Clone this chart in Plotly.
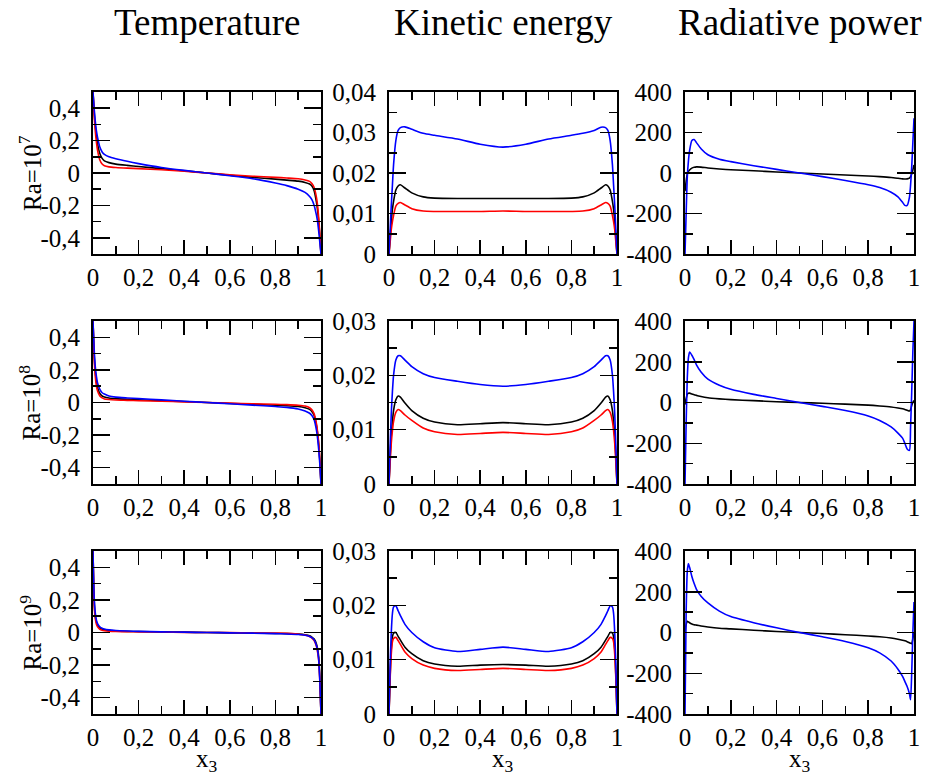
import plotly.graph_objects as go

# ---------------- data ----------------
x3 = [0, 0.005, 0.01, 0.015, 0.02, 0.03, 0.04, 0.05, 0.07, 0.1, 0.15, 0.2, 0.3, 0.4, 0.5,
      0.6, 0.7, 0.8, 0.85, 0.9, 0.93, 0.95, 0.96, 0.97, 0.98, 0.985, 0.99, 0.995, 1]

# Temperature
temp7_black = [0.5, 0.38, 0.29, 0.23, 0.18, 0.12, 0.09, 0.075, 0.064, 0.055, 0.047, 0.04, 0.027, 0.014, 0.0,
               -0.014, -0.027, -0.038, -0.044, -0.05, -0.058, -0.068, -0.08, -0.11, -0.18, -0.23, -0.3, -0.39, -0.5]
temp7_red = [0.5, 0.36, 0.26, 0.19, 0.14, 0.08, 0.055, 0.045, 0.038, 0.034, 0.03, 0.027, 0.02, 0.011, 0.0,
             -0.011, -0.02, -0.027, -0.031, -0.036, -0.043, -0.052, -0.065, -0.09, -0.15, -0.2, -0.28, -0.38, -0.5]
temp7_blue = [0.5, 0.4, 0.32, 0.26, 0.22, 0.16, 0.13, 0.115, 0.1, 0.088, 0.072, 0.058, 0.034, 0.016, 0.0,
              -0.017, -0.035, -0.062, -0.078, -0.1, -0.12, -0.145, -0.165, -0.2, -0.26, -0.3, -0.36, -0.43, -0.5]

temp8_black = [0.5, 0.3, 0.19, 0.13, 0.09, 0.055, 0.04, 0.034, 0.028, 0.024, 0.02, 0.017, 0.011, 0.006, 0.0,
               -0.006, -0.011, -0.017, -0.02, -0.025, -0.032, -0.042, -0.055, -0.08, -0.14, -0.19, -0.26, -0.36, -0.5]
temp8_red = [0.5, 0.28, 0.16, 0.1, 0.07, 0.04, 0.028, 0.022, 0.018, 0.015, 0.013, 0.011, 0.008, 0.004, 0.0,
             -0.004, -0.008, -0.011, -0.013, -0.017, -0.022, -0.032, -0.045, -0.07, -0.13, -0.18, -0.25, -0.35, -0.5]
temp8_blue = [0.5, 0.33, 0.22, 0.16, 0.12, 0.08, 0.06, 0.052, 0.04, 0.033, 0.028, 0.024, 0.016, 0.008, 0.0,
              -0.008, -0.016, -0.025, -0.03, -0.04, -0.052, -0.066, -0.08, -0.105, -0.17, -0.22, -0.29, -0.38, -0.5]

temp9_black = [0.5, 0.2, 0.1, 0.065, 0.045, 0.028, 0.02, 0.016, 0.012, 0.009, 0.007, 0.006, 0.004, 0.002, 0.0,
               -0.002, -0.004, -0.006, -0.007, -0.01, -0.014, -0.02, -0.028, -0.04, -0.07, -0.1, -0.15, -0.28, -0.5]
temp9_red = [0.5, 0.18, 0.085, 0.05, 0.035, 0.02, 0.014, 0.011, 0.008, 0.006, 0.005, 0.004, 0.003, 0.001, 0.0,
             -0.001, -0.003, -0.004, -0.005, -0.01, -0.015, -0.025, -0.035, -0.05, -0.085, -0.12, -0.17, -0.3, -0.5]
temp9_blue = [0.5, 0.22, 0.12, 0.075, 0.055, 0.035, 0.026, 0.021, 0.016, 0.012, 0.009, 0.007, 0.004, 0.002, 0.0,
              -0.002, -0.004, -0.007, -0.009, -0.012, -0.017, -0.024, -0.032, -0.045, -0.08, -0.11, -0.17, -0.3, -0.5]

# Kinetic energy
kin7_black = [0, 0.004, 0.008, 0.011, 0.013, 0.0158, 0.0168, 0.0171, 0.0163, 0.0151, 0.0141, 0.0138, 0.0137, 0.0137, 0.0137,
              0.0137, 0.0137, 0.0138, 0.0141, 0.0151, 0.0163, 0.0171, 0.0168, 0.0158, 0.013, 0.011, 0.008, 0.004, 0]
kin7_red = [0, 0.003, 0.006, 0.008, 0.0095, 0.0118, 0.0125, 0.0127, 0.0121, 0.0112, 0.0106, 0.0105, 0.0105, 0.0105, 0.0106,
            0.0105, 0.0105, 0.0105, 0.0106, 0.0112, 0.0121, 0.0127, 0.0125, 0.0118, 0.0095, 0.008, 0.006, 0.003, 0]
kin7_blue = [0, 0.006, 0.012, 0.017, 0.022, 0.028, 0.0305, 0.0312, 0.0314, 0.0308, 0.0298, 0.0293, 0.0284, 0.0271, 0.0264,
             0.0271, 0.0284, 0.0293, 0.0298, 0.0305, 0.0313, 0.0312, 0.0305, 0.028, 0.022, 0.017, 0.012, 0.006, 0]

kin8_black = [0, 0.005, 0.009, 0.0115, 0.0135, 0.0155, 0.0162, 0.016, 0.0149, 0.0135, 0.0121, 0.0114, 0.0109, 0.0111, 0.0113,
              0.0111, 0.0109, 0.0114, 0.0121, 0.0135, 0.0149, 0.016, 0.0162, 0.0155, 0.0135, 0.0115, 0.009, 0.005, 0]
kin8_red = [0, 0.004, 0.0075, 0.0098, 0.0115, 0.0132, 0.0137, 0.0135, 0.0127, 0.0117, 0.0103, 0.0096, 0.0091, 0.0093, 0.0095,
            0.0093, 0.0091, 0.0096, 0.0103, 0.0117, 0.0127, 0.0135, 0.0137, 0.0132, 0.0115, 0.0098, 0.0075, 0.004, 0]
kin8_blue = [0, 0.007, 0.013, 0.017, 0.02, 0.0228, 0.0236, 0.0236, 0.0228, 0.0216, 0.0203, 0.0196, 0.0189, 0.0183, 0.018,
             0.0183, 0.0189, 0.0196, 0.0203, 0.0216, 0.0228, 0.0236, 0.0236, 0.0228, 0.02, 0.017, 0.013, 0.007, 0]

kin9_black = [0, 0.007, 0.012, 0.0142, 0.0149, 0.015, 0.0143, 0.0136, 0.0123, 0.0111, 0.0098, 0.0092, 0.0088, 0.009, 0.0091,
              0.009, 0.0088, 0.0092, 0.0098, 0.0111, 0.0123, 0.0136, 0.0143, 0.015, 0.0149, 0.0142, 0.012, 0.007, 0]
kin9_red = [0, 0.0065, 0.011, 0.0133, 0.0139, 0.0141, 0.0135, 0.0128, 0.0114, 0.0102, 0.009, 0.0084, 0.008, 0.0082, 0.0084,
            0.0082, 0.008, 0.0084, 0.009, 0.0102, 0.0114, 0.0128, 0.0135, 0.0141, 0.0139, 0.0133, 0.011, 0.0065, 0]
kin9_blue = [0, 0.009, 0.015, 0.0185, 0.0197, 0.0199, 0.019, 0.0181, 0.0165, 0.015, 0.0133, 0.0122, 0.0115, 0.0119, 0.0123,
             0.0119, 0.0115, 0.0122, 0.0133, 0.015, 0.0165, 0.0181, 0.019, 0.0199, 0.0197, 0.0185, 0.015, 0.009, 0]

# Radiative power
rad7_black = [-90, -40, -5, 8, 15, 24, 28, 30, 29, 25, 20, 16, 11, 5, 0,
              -5, -10, -15, -18, -22, -26, -29, -30, -29, -25, -18, -5, 15, 40]
rad7_blue = [-400, -200, -20, 60, 110, 160, 165, 150, 120, 90, 68, 56, 36, 18, 0,
             -18, -37, -58, -72, -95, -118, -145, -160, -160, -120, -60, 30, 150, 270]

rad8_black = [-10, 20, 40, 45, 46, 42, 38, 35, 29, 23, 18, 14, 9, 4, 0,
              -4, -8, -13, -17, -22, -27, -31, -34, -38, -42, -35, -15, 0, 10]
rad8_blue = [-400, -100, 120, 220, 248, 232, 210, 185, 150, 115, 85, 65, 40, 20, 0,
             -19, -39, -66, -88, -120, -150, -175, -200, -228, -235, -120, 50, 250, 400]

rad9_black = [0, 40, 55, 52, 48, 42, 38, 36, 32, 27, 21, 18, 11, 5, 0,
              -5, -11, -17, -21, -27, -33, -38, -41, -45, -50, -53, -55, -30, 0]
rad9_blue = [-400, 100, 300, 338, 320, 275, 240, 212, 178, 145, 105, 78, 48, 23, 0,
             -21, -44, -75, -100, -140, -180, -215, -240, -265, -300, -330, -200, 0, 150]

column_titles = ["Temperature", "Kinetic energy", "Radiative power"]
row_labels = ["Ra=10<sup>7</sup>", "Ra=10<sup>8</sup>", "Ra=10<sup>9</sup>"]
x_title = "x<sub>3</sub>"

x_tickvals = [0, 0.2, 0.4, 0.6, 0.8, 1]
x_ticktext = ["0", "0,2", "0,4", "0,6", "0,8", "1"]
temp_tickvals = [-0.4, -0.2, 0, 0.2, 0.4]
temp_ticktext = ["-0,4", "-0,2", "0", "0,2", "0,4"]
kin7_tickvals = [0, 0.01, 0.02, 0.03, 0.04]
kin7_ticktext = ["0", "0,01", "0,02", "0,03", "0,04"]
kin_tickvals = [0, 0.01, 0.02, 0.03]
kin_ticktext = ["0", "0,01", "0,02", "0,03"]
rad_tickvals = [-400, -200, 0, 200, 400]
rad_ticktext = ["-400", "-200", "0", "200", "400"]

# ---------------- layout helpers ----------------
W, H = 928, 782
col_px = [(93, 321), (389, 617), (685, 914)]
row_px = [(92, 254), (321, 484), (551, 714)]
FONT = "Liberation Serif"
BLACK, RED, BLUE = "#000000", "#ff0000", "#0000ff"

panels = [
    (0, 0, [(temp7_black, BLACK), (temp7_red, RED), (temp7_blue, BLUE)], [-0.5, 0.5], temp_tickvals, temp_ticktext, 0.1),
    (0, 1, [(kin7_black, BLACK), (kin7_red, RED), (kin7_blue, BLUE)], [0, 0.04], kin7_tickvals, kin7_ticktext, 0.005),
    (0, 2, [(rad7_black, BLACK), (rad7_blue, BLUE)], [-400, 400], rad_tickvals, rad_ticktext, 100),
    (1, 0, [(temp8_black, BLACK), (temp8_red, RED), (temp8_blue, BLUE)], [-0.5, 0.5], temp_tickvals, temp_ticktext, 0.1),
    (1, 1, [(kin8_black, BLACK), (kin8_red, RED), (kin8_blue, BLUE)], [0, 0.03], kin_tickvals, kin_ticktext, 0.005),
    (1, 2, [(rad8_black, BLACK), (rad8_blue, BLUE)], [-400, 400], rad_tickvals, rad_ticktext, 100),
    (2, 0, [(temp9_black, BLACK), (temp9_red, RED), (temp9_blue, BLUE)], [-0.5, 0.5], temp_tickvals, temp_ticktext, 0.1),
    (2, 1, [(kin9_black, BLACK), (kin9_red, RED), (kin9_blue, BLUE)], [0, 0.03], kin_tickvals, kin_ticktext, 0.005),
    (2, 2, [(rad9_black, BLACK), (rad9_blue, BLUE)], [-400, 400], rad_tickvals, rad_ticktext, 100),
]

fig = go.Figure()
layout = {}
for i, (r, c, series, yr, tv, tt, ymin_dt) in enumerate(panels):
    n = i + 1
    xa = "x" if n == 1 else f"x{n}"
    ya = "y" if n == 1 else f"y{n}"
    for vals, color in series:
        fig.add_trace(go.Scatter(x=x3, y=vals, mode="lines", xaxis=xa, yaxis=ya,
                                 line=dict(color=color, width=1.6, shape="spline", smoothing=0.6),
                                 showlegend=False, hoverinfo="skip", cliponaxis=True))
    x0, x1 = col_px[c]
    y0, y1 = row_px[r]
    common = dict(showline=True, linecolor="black", linewidth=2, mirror="ticks",
                  ticks="inside", tickcolor="black", tickwidth=1.5, showgrid=False,
                  zeroline=False, automargin=False,
                  tickfont=dict(family=FONT, size=25, color="black"))
    layout[f"xaxis{'' if n == 1 else n}"] = dict(
        domain=[x0 / W, x1 / W], anchor=ya, range=[0, 1],
        tickmode="array", tickvals=x_tickvals, ticktext=x_ticktext, ticklen=14,
        minor=dict(dtick=0.1, tick0=0, ticks="inside", ticklen=8, tickcolor="black", tickwidth=1.5),
        ticklabelstandoff=0, **common)
    layout[f"yaxis{'' if n == 1 else n}"] = dict(
        domain=[1 - y1 / H, 1 - y0 / H], anchor=xa, range=yr,
        tickmode="array", tickvals=tv, ticktext=tt, ticklen=17,
        minor=dict(dtick=ymin_dt, tick0=0, ticks="inside", ticklen=8, tickcolor="black", tickwidth=1.5),
        ticklabelstandoff=6, **common)

annotations = []
for c, title in enumerate(column_titles):
    cx = (col_px[c][0] + col_px[c][1]) / 2
    annotations.append(dict(text=title, x=cx / W, y=1 - 22 / H, xref="paper", yref="paper",
                            xanchor="center", yanchor="middle", showarrow=False,
                            font=dict(family=FONT, size=37, color="black")))
    annotations.append(dict(text=x_title, x=cx / W, y=1 - 760 / H, xref="paper", yref="paper",
                            xanchor="center", yanchor="middle", showarrow=False,
                            font=dict(family=FONT, size=25, color="black")))
for r, lab in enumerate(row_labels):
    cy = (row_px[r][0] + row_px[r][1]) / 2
    annotations.append(dict(text=lab, x=30 / W, y=1 - cy / H, xref="paper", yref="paper",
                            xanchor="center", yanchor="middle", showarrow=False, textangle=-90,
                            font=dict(family=FONT, size=25, color="black")))

fig.update_layout(template="none", width=W, height=H, margin=dict(l=0, r=0, t=0, b=0, pad=0),
                  paper_bgcolor="white", plot_bgcolor="white", separators=",.",
                  font=dict(family=FONT, color="black"),
                  annotations=annotations, showlegend=False, **layout)

fig.write_html("out.html",
               config={"displayModeBar": False, "responsive": False, "staticPlot": True},
               post_script="var s=document.documentElement.style;s.margin='0';s.padding='0';s.overflow='hidden';"
                           "var b=document.body.style;b.margin='0';b.padding='0';b.overflow='hidden';")
